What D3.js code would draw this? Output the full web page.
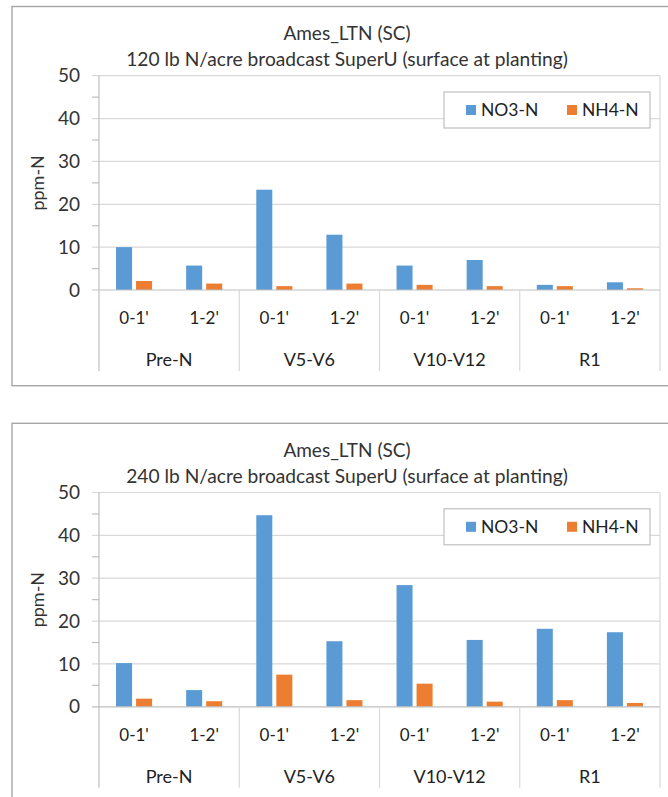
<!DOCTYPE html>
<html><head><meta charset="utf-8">
<script src="https://cdn.jsdelivr.net/npm/d3@7"></script>
<style>html,body{margin:0;padding:0;background:#fff;} svg{display:block;}</style>
</head><body>
<svg id="c" width="668" height="797"></svg>
<script>
const groups = ["Pre-N", "V5-V6", "V10-V12", "R1"];
const depths = ["0-1'", "1-2'"];
const seriesNames = ["NO3-N", "NH4-N"];
const titleLine1 = "Ames_LTN (SC)";
const titleTop = "120 lb N/acre broadcast SuperU (surface at planting)";
const titleBottom = "240 lb N/acre broadcast SuperU (surface at planting)";
const yTicks = [0, 10, 20, 30, 40, 50];
const yMinorTicks = [5, 15, 25, 35, 45];
const yLabel = "ppm-N";
// values per leaf category (group x depth), in order
const no3_120 = [10.0, 5.7, 23.4, 12.9, 5.7, 7.0, 1.2, 1.8];
const nh4_120 = [2.1, 1.5, 0.9, 1.5, 1.2, 0.9, 0.9, 0.4];
const no3_240 = [10.2, 3.9, 44.7, 15.3, 28.4, 15.6, 18.2, 17.4];
const nh4_240 = [1.9, 1.3, 7.5, 1.55, 5.4, 1.2, 1.55, 0.9];

const colors = {"NO3-N": "#5B9BD5", "NH4-N": "#ED7D31"};
const FONT = "Lato, 'Open Sans', sans-serif";
const svg = d3.select("#c");

function drawChart(oy, subtitle, no3, nh4, borderH) {
  const g = svg.append("g").attr("transform", `translate(0,${oy})`);
  g.append("rect").attr("x", 12).attr("y", 6.5).attr("width", 672).attr("height", borderH)
    .attr("fill", "#fff").attr("stroke", "#a6a6a6").attr("stroke-width", 1.4);

  const left = 99, right = 660, top = 75.7, bottom = 290;
  const leaves = [];
  groups.forEach(gr => depths.forEach(dp => leaves.push(gr + "|" + dp)));
  const rows = leaves.map((k, i) => ({key: k, group: k.split("|")[0], depth: k.split("|")[1],
    "NO3-N": no3[i], "NH4-N": nh4[i]}));

  const x0 = d3.scaleBand().domain(leaves).range([left, right]);
  const xg = d3.scaleBand().domain(groups).range([left, right]);
  const x1 = d3.scaleBand().domain(seriesNames).range([0, x0.bandwidth()]).paddingInner(0.2).paddingOuter(0.85);
  const y = d3.scaleLinear().domain([0, 50]).range([bottom, top]);

  // titles
  g.append("text").attr("x", 347).attr("y", 40).attr("text-anchor", "middle")
    .attr("font-family", FONT).attr("font-size", 19).attr("fill", "#333").text(titleLine1);
  g.append("text").attr("x", 347).attr("y", 66).attr("text-anchor", "middle")
    .attr("font-family", FONT).attr("font-size", 19.2).attr("fill", "#333").text(subtitle);

  // gridlines
  g.append("g").selectAll("line").data(yTicks.filter(v => v > 0)).join("line")
    .attr("x1", left - 7).attr("x2", right).attr("y1", d => y(d)).attr("y2", d => y(d))
    .attr("stroke", "#d9d9d9").attr("stroke-width", 1.2);
  // minor ticks
  g.append("g").selectAll("line").data(yMinorTicks).join("line")
    .attr("x1", left - 7).attr("x2", left).attr("y1", d => y(d)).attr("y2", d => y(d))
    .attr("stroke", "#bfbfbf").attr("stroke-width", 1.2);
  // y axis line
  g.append("line").attr("x1", left).attr("x2", left).attr("y1", top).attr("y2", bottom + 81)
    .attr("stroke", "#bfbfbf").attr("stroke-width", 1.2);
  // right plot edge
  g.append("line").attr("x1", right).attr("x2", right).attr("y1", top).attr("y2", bottom + 81)
    .attr("stroke", "#d9d9d9").attr("stroke-width", 1.2);
  // y tick labels
  g.append("g").selectAll("text").data(yTicks).join("text")
    .attr("x", 80).attr("y", d => y(d)).attr("dy", "0.35em").attr("text-anchor", "end")
    .attr("font-family", FONT).attr("font-size", 19).attr("fill", "#333").text(d => d);
  // y label
  g.append("text").attr("transform", `translate(44,${(top + bottom) / 2}) rotate(-90)`)
    .attr("text-anchor", "middle").attr("font-family", FONT).attr("font-size", 18).attr("fill", "#333").text(yLabel);

  // bars
  g.append("g").selectAll("g").data(rows).join("g")
    .attr("transform", d => `translate(${x0(d.key)},0)`)
    .selectAll("rect").data(d => seriesNames.map(s => ({s, v: d[s]}))).join("rect")
    .attr("x", d => x1(d.s)).attr("width", x1.bandwidth())
    .attr("y", d => y(d.v)).attr("height", d => y(0) - y(d.v))
    .attr("fill", d => colors[d.s]);

  // x axis line
  g.append("line").attr("x1", left - 7).attr("x2", right).attr("y1", bottom).attr("y2", bottom)
    .attr("stroke", "#bfbfbf").attr("stroke-width", 1.2);
  // group separators
  g.append("g").selectAll("line").data(groups.slice(1)).join("line")
    .attr("x1", d => xg(d)).attr("x2", d => xg(d)).attr("y1", bottom).attr("y2", bottom + 81)
    .attr("stroke", "#d9d9d9").attr("stroke-width", 1.2);
  // leaf labels
  g.append("g").selectAll("text").data(rows).join("text")
    .attr("x", d => x0(d.key) + x0.bandwidth() / 2).attr("y", 318.5).attr("dy", "0.35em")
    .attr("text-anchor", "middle").attr("font-family", FONT).attr("font-size", 17).attr("fill", "#222")
    .text(d => d.depth);
  // group labels
  g.append("g").selectAll("text").data(groups).join("text")
    .attr("x", d => xg(d) + xg.bandwidth() / 2).attr("y", 359.5).attr("dy", "0.35em")
    .attr("text-anchor", "middle").attr("font-family", FONT).attr("font-size", 18).attr("fill", "#222")
    .text(d => d);

  // legend
  const lg = g.append("g");
  lg.append("rect").attr("x", 444).attr("y", 92).attr("width", 206).attr("height", 36)
    .attr("fill", "#fff").attr("stroke", "#bfbfbf").attr("stroke-width", 1.2);
  const lx = [466, 567];
  seriesNames.forEach((s, i) => {
    lg.append("rect").attr("x", lx[i]).attr("y", 105).attr("width", 10).attr("height", 10).attr("fill", colors[s]);
    lg.append("text").attr("x", lx[i] + 15).attr("y", 110).attr("dy", "0.35em")
      .attr("font-family", FONT).attr("font-size", 17.5).attr("fill", "#222").text(s);
  });
}

drawChart(0, titleTop, no3_120, nh4_120, 379.2);
drawChart(416.8, titleBottom, no3_240, nh4_240, 420);
</script>
</body></html>
